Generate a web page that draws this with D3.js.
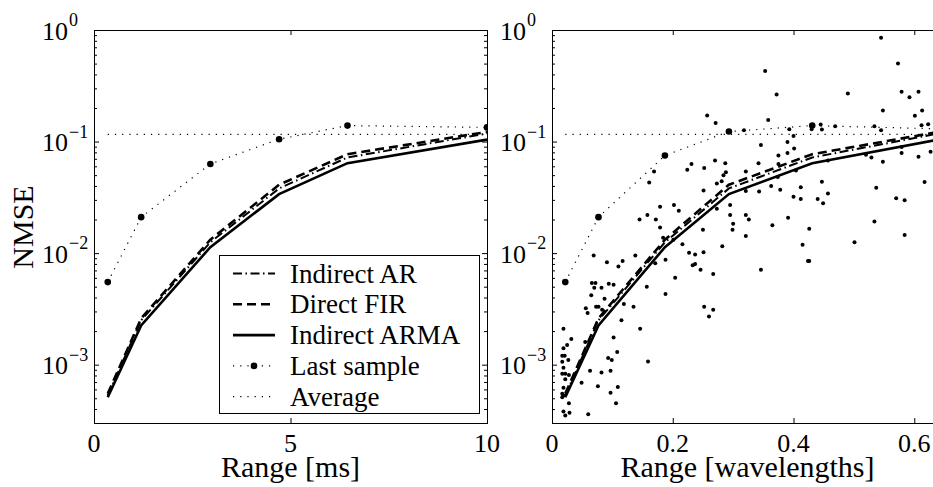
<!DOCTYPE html>
<html>
<head>
<meta charset="utf-8">
<script src="https://cdn.jsdelivr.net/npm/d3@7"></script>
<style>
  body { margin: 0; background: #fff; }
  text { font-family: "Liberation Serif", "Times New Roman", serif; fill: #000; }
</style>
</head>
<body>
<div id="chart"></div>
<script>
// ---- data ----
var rangeMs = [0.35, 1.2, 2.96, 4.71, 6.45, 10];
var rangeWl = [0.022, 0.077, 0.187, 0.293, 0.431, 0.64];

var indirectAR   = [5.3e-4, 2.5e-3, 0.0125, 0.038, 0.072, 0.118];
var directFIR    = [5.5e-4, 2.6e-3, 0.0132, 0.041, 0.077, 0.122];
var indirectARMA = [5.1e-4, 2.25e-3, 0.0113, 0.0338, 0.064, 0.104];

var lastSampleMs = [0.0055, 0.021, 0.063, 0.105, 0.139, 0.134];
var lastSampleWl = [0.0055, 0.021, 0.075, 0.123, 0.139, 0.13];
var averageNmse = 0.116;

var msTicks = [0, 5, 10];
var wlTicks = [0, 0.2, 0.4, 0.6];
var wlTickLabels = ["0", "0.2", "0.4", "0.6"];
var nmseTicks = [1e-3, 1e-2, 1e-1, 1];
var nmseExp = ["\u22123", "\u22122", "\u22121", "0"];

var legendNames = ["Indirect AR", "Direct FIR", "Indirect ARMA", "Last sample", "Average"];

// individual realisations (range in wavelengths, NMSE)
var scatterWl = [
  [0.169,0.054],[0.161,0.043],[0.179,0.026],[0.202,0.027],[0.210,0.024],[0.158,0.022],[0.145,0.020],
  [0.172,0.020],[0.179,0.017],[0.184,0.0137],[0.201,0.0132],
  [0.353,0.43],[0.372,0.264],[0.257,0.171],[0.271,0.147],[0.358,0.156],[0.318,0.126],[0.393,0.129],
  [0.400,0.112],[0.346,0.093],[0.390,0.099],[0.401,0.0865],[0.375,0.075],[0.390,0.079],[0.231,0.063],
  [0.224,0.056],[0.252,0.058],[0.270,0.0675],[0.287,0.064],[0.288,0.053],[0.284,0.050],[0.342,0.064],
  [0.321,0.054],[0.375,0.063],[0.404,0.055],[0.374,0.048],[0.273,0.042],[0.281,0.044],[0.251,0.0365],
  [0.321,0.036],[0.343,0.0356],[0.363,0.040],[0.378,0.037],[0.412,0.039],[0.400,0.032],[0.412,0.0305],
  [0.273,0.025],[0.295,0.027],[0.295,0.022],[0.321,0.022],[0.326,0.020],[0.300,0.0183],[0.365,0.0178],
  [0.391,0.0207],[0.250,0.0162],[0.299,0.0162],
  [0.321,0.0142],[0.216,0.012],[0.227,0.0101],[0.237,0.0097],[0.251,0.0102],[0.282,0.0115],[0.233,0.0078],
  [0.237,0.0080],[0.246,0.0071],[0.267,0.0065],[0.346,0.0071],[0.415,0.0119],[0.424,0.0085],[0.252,0.0033],
  [0.267,0.0031],[0.260,0.0027],
  [0.545,0.85],[0.573,0.50],[0.490,0.27],[0.579,0.28],[0.592,0.25],[0.607,0.28],[0.548,0.19],[0.613,0.19],
  [0.601,0.17],[0.430,0.129],[0.445,0.142],[0.447,0.128],[0.469,0.137],[0.534,0.137],[0.545,0.126],
  [0.612,0.14],[0.623,0.143],[0.579,0.0895],[0.579,0.079],[0.520,0.076],[0.529,0.072],[0.548,0.066],
  [0.607,0.073],[0.627,0.081],[0.457,0.0675],[0.447,0.0437],[0.457,0.0343],[0.440,0.0305],[0.449,0.028],
  [0.537,0.0386],[0.570,0.031],[0.584,0.0297],[0.617,0.0434],[0.534,0.0192],[0.426,0.0165],
  [0.584,0.0145],[0.501,0.0125],[0.426,0.0085],
  [0.069,0.0095],[0.091,0.0083],[0.117,0.0085],[0.110,0.0076],[0.138,0.0095],[0.171,0.0081],[0.188,0.0087],
  [0.066,0.0054],[0.072,0.0054],[0.070,0.0049],[0.082,0.0049],[0.094,0.0053],[0.102,0.0052],[0.065,0.0042],
  [0.087,0.0039],[0.157,0.0050],[0.188,0.0043],[0.204,0.0060],[0.119,0.0035],[0.135,0.0033],[0.056,0.0032],
  [0.059,0.0029],[0.073,0.0033],[0.077,0.0033],[0.083,0.0031],[0.115,0.0025],[0.146,0.0021],[0.019,0.0021],
  [0.032,0.0017],[0.025,0.0015],[0.055,0.0016],[0.102,0.00175],[0.019,0.0014],[0.017,0.0012],[0.021,0.0012],
  [0.027,0.0011],[0.108,0.0013],[0.093,0.00115],[0.099,0.0011],[0.159,0.00107],[0.017,0.00106],[0.019,0.00094],
  [0.017,0.00083],[0.022,0.00083],[0.028,0.00081],[0.063,0.00088],[0.082,0.00085],[0.097,0.00088],
  [0.022,0.00074],[0.049,0.00069],[0.076,0.00064],[0.097,0.00056],[0.109,0.00063],[0.019,0.00062],
  [0.017,0.00055],[0.019,0.00053],[0.017,0.00051],[0.106,0.00045],[0.028,0.00045],[0.019,0.00038],
  [0.029,0.00037],[0.022,0.00035],[0.060,0.00036]
];

// ---- layout ----
var W = 933, H = 487;
var plotTop = 30, plotBottom = 423;

var svg = d3.select("#chart").append("svg")
    .attr("width", W).attr("height", H);

var y = d3.scaleLog().domain([3e-4, 1]).range([plotBottom, plotTop]);

var styles = {
  ar:   {width: 2, dash: "9,3.5,1.5,3.5"},
  fir:  {width: 2.6, dash: "9,5"},
  arma: {width: 2.6, dash: null},
  dot:  {width: 1.2, dash: "1.2,6"}
};

// minor log ticks
var minorTicks = [];
for (var d = -4; d <= 0; d++) {
  for (var k = 2; k <= 9; k++) {
    var v = k * Math.pow(10, d);
    if (v >= 3e-4 && v <= 1) minorTicks.push(v);
  }
}

function drawPanel(id, x, x0, x1, xs, lastSample, xTicks, xLabels, xTitle, titleX, scatter) {
  var g = svg.append("g").attr("id", id);

  g.append("clipPath").attr("id", "clip-" + id)
    .append("rect").attr("x", x0).attr("y", plotTop).attr("width", x1 - x0).attr("height", plotBottom - plotTop);

  var plot = g.append("g").attr("clip-path", "url(#clip-" + id + ")");

  // scatter of single realisations
  if (scatter) {
    plot.selectAll("circle.pt").data(scatter).enter().append("circle")
      .attr("class", "pt")
      .attr("cx", function(p){ return x(p[0]); })
      .attr("cy", function(p){ return y(p[1]); })
      .attr("r", 2)
      .attr("fill", "#000");
  }

  // average
  plot.append("line")
    .attr("x1", x(xs[0])).attr("x2", x(xs[xs.length - 1]))
    .attr("y1", y(averageNmse)).attr("y2", y(averageNmse))
    .attr("stroke", "#000").attr("stroke-width", styles.dot.width)
    .attr("stroke-dasharray", styles.dot.dash);

  var line = d3.line()
    .x(function(d, i){ return x(xs[i]); })
    .y(function(d){ return y(d); });

  // last sample
  plot.append("path").datum(lastSample)
    .attr("d", line).attr("fill", "none")
    .attr("stroke", "#000").attr("stroke-width", styles.dot.width)
    .attr("stroke-dasharray", styles.dot.dash);
  plot.selectAll("circle.ls").data(lastSample).enter().append("circle")
    .attr("class", "ls")
    .attr("cx", function(d, i){ return x(xs[i]); })
    .attr("cy", function(d){ return y(d); })
    .attr("r", 3.3).attr("fill", "#000");

  var series = [[indirectAR, styles.ar], [directFIR, styles.fir], [indirectARMA, styles.arma]];
  series.forEach(function(s) {
    plot.append("path").datum(s[0])
      .attr("d", line).attr("fill", "none")
      .attr("stroke", "#000").attr("stroke-width", s[1].width)
      .attr("stroke-dasharray", s[1].dash);
  });

  // frame
  g.append("rect")
    .attr("x", x0 + 0.5).attr("y", plotTop + 0.5)
    .attr("width", x1 - x0).attr("height", plotBottom - plotTop)
    .attr("fill", "none").attr("stroke", "#000").attr("stroke-width", 1);

  // inward ticks on all sides
  var axes = g.append("g").attr("color", "#000");
  axes.append("g").attr("transform", "translate(0," + plotBottom + ")")
    .call(d3.axisBottom(x).tickValues(xTicks).tickSize(-5).tickFormat(""));
  axes.append("g").attr("transform", "translate(0," + plotTop + ")")
    .call(d3.axisTop(x).tickValues(xTicks).tickSize(-5).tickFormat(""));
  axes.append("g").attr("transform", "translate(" + x0 + ",0)")
    .call(d3.axisLeft(y).tickValues(nmseTicks).tickSize(-5).tickFormat(""));
  axes.append("g").attr("transform", "translate(" + x0 + ",0)")
    .call(d3.axisLeft(y).tickValues(minorTicks).tickSize(-3).tickFormat(""));
  axes.append("g").attr("transform", "translate(" + x1 + ",0)")
    .call(d3.axisRight(y).tickValues(nmseTicks).tickSize(-5).tickFormat(""));
  axes.append("g").attr("transform", "translate(" + x1 + ",0)")
    .call(d3.axisRight(y).tickValues(minorTicks).tickSize(-3).tickFormat(""));
  axes.selectAll(".domain").remove();
  axes.selectAll("text").remove();

  // x tick labels
  g.selectAll("text.xt").data(xTicks).enter().append("text")
    .attr("class", "xt")
    .attr("x", function(d){ return x(d); })
    .attr("y", 452)
    .attr("text-anchor", "middle")
    .attr("font-size", 26)
    .text(function(d, i){ return xLabels[i]; });

  // y tick labels 10^k
  nmseTicks.forEach(function(t, i) {
    g.append("text")
      .attr("x", x0 - 26).attr("y", y(t) + 9.5)
      .attr("text-anchor", "end").attr("font-size", 26)
      .text("10");
    g.append("text")
      .attr("x", x0 - 25).attr("y", y(t) - 4)
      .attr("font-size", 18)
      .text(nmseExp[i]);
  });

  g.append("text")
    .attr("x", titleX).attr("y", 477)
    .attr("text-anchor", "middle").attr("font-size", 30)
    .text(xTitle);
}

var xMs = d3.scaleLinear().domain([0, 10]).range([94, 487]);
var xWl = d3.scaleLinear().domain([0, 0.65]).range([552, 552 + 0.65 * 603.8]);

drawPanel("left", xMs, 94, 487, rangeMs, lastSampleMs, msTicks, msTicks.map(String), "Range [ms]", 290.5, null);
drawPanel("right", xWl, 552, 552 + 0.65 * 603.8, rangeWl, lastSampleWl, wlTicks, wlTickLabels, "Range [wavelengths]", 747.5, scatterWl);

// y title
svg.append("text")
  .attr("transform", "translate(33,227) rotate(-90)")
  .attr("text-anchor", "middle").attr("font-size", 30)
  .text("NMSE");

// legend
var lg = svg.append("g").attr("id", "legend");
lg.append("rect")
  .attr("x", 219.5).attr("y", 255.5).attr("width", 260).attr("height", 158)
  .attr("fill", "#fff").attr("stroke", "#000").attr("stroke-width", 1);

var legendStyles = [styles.ar, styles.fir, styles.arma, styles.dot, styles.dot];
legendNames.forEach(function(name, i) {
  var cy = 273.5 + i * 30.8;
  lg.append("line")
    .attr("x1", 233).attr("x2", 275).attr("y1", cy).attr("y2", cy)
    .attr("stroke", "#000").attr("stroke-width", legendStyles[i].width)
    .attr("stroke-dasharray", legendStyles[i].dash);
  if (i === 3) {
    lg.append("circle").attr("cx", 254).attr("cy", cy).attr("r", 3.3).attr("fill", "#000");
  }
  lg.append("text")
    .attr("x", 290).attr("y", cy + 9)
    .attr("font-size", 27)
    .text(name);
});
</script>
</body>
</html>
